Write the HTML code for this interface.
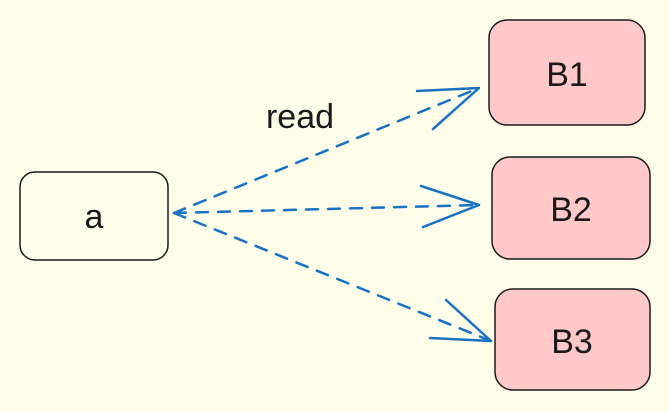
<!DOCTYPE html>
<html><head><style>
html,body{margin:0;padding:0;background:#fefde9;}
svg{display:block}
text{font-family:"Liberation Sans",sans-serif;fill:#1a1a1a}
</style></head><body>
<svg width="669" height="412" viewBox="0 0 669 412">
<rect width="669" height="412" fill="#fefde9"/>
<rect x="20" y="172" width="148" height="88" rx="15" fill="#fefde9" stroke="#1a1a1a" stroke-width="1.5"/>
<text x="94" y="228" font-size="34" text-anchor="middle">a</text>
<rect x="489" y="20" width="156" height="105" rx="18" fill="#ffc9c9" stroke="#1a1a1a" stroke-width="1.5"/>
<text x="567" y="86" font-size="34" text-anchor="middle">B1</text>
<rect x="492" y="157" width="158" height="102" rx="18" fill="#ffc9c9" stroke="#1a1a1a" stroke-width="1.5"/>
<text x="571" y="221" font-size="34" text-anchor="middle">B2</text>
<rect x="495" y="289" width="155" height="101" rx="18" fill="#ffc9c9" stroke="#1a1a1a" stroke-width="1.5"/>
<text x="572" y="353" font-size="34" text-anchor="middle">B3</text>
<text x="300" y="128" font-size="34" text-anchor="middle">read</text>
<g stroke="#1971c2" stroke-width="2.5" fill="none" stroke-linecap="round" stroke-linejoin="round">
<path d="M174 213 L479 88" stroke-dasharray="12 10"/>
<path d="M417 91 L479 88 L433 129"/>
<path d="M174 213 L479 205" stroke-dasharray="12 10"/>
<path d="M421 186 L479 205 L423 227"/>
<path d="M174 213 L491 341" stroke-dasharray="12 10"/>
<path d="M446 300 L491 341 L430 338"/>
</g>
</svg>
</body></html>
